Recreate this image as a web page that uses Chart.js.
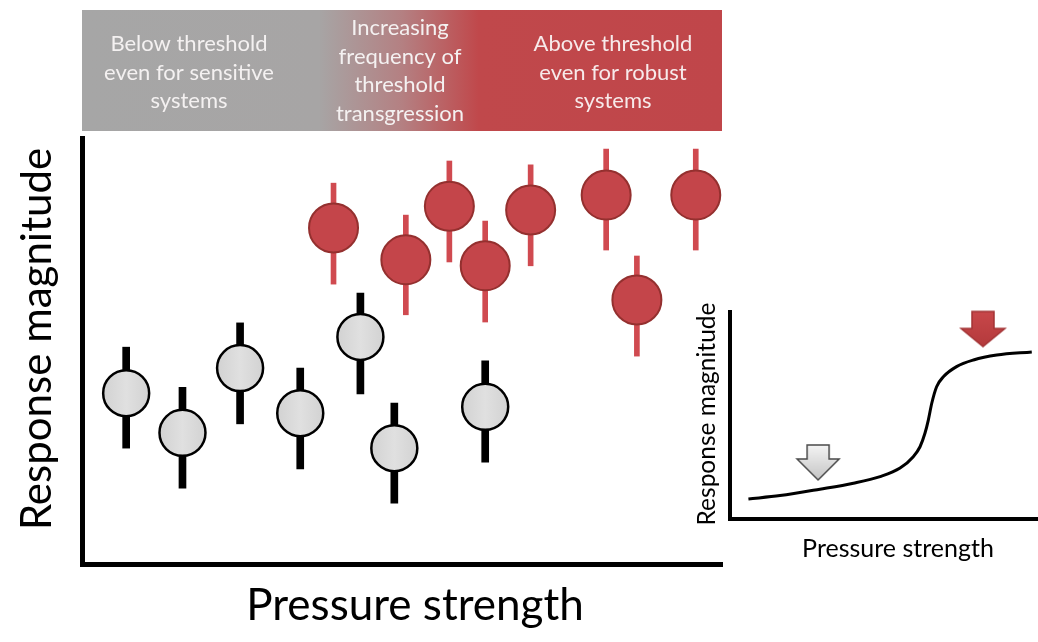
<!DOCTYPE html>
<html>
<head>
<meta charset="utf-8">
<script src="https://cdn.jsdelivr.net/npm/chart.js@4.4.1/dist/chart.umd.min.js"></script>
<style>
  html, body { margin: 0; padding: 0; background: #ffffff; }
  #wrap { position: relative; width: 1038px; height: 642px; }
  #wrap canvas { position: absolute; left: 0; top: 0; }
</style>
</head>
<body>
<div id="wrap">
  <canvas id="main" width="1038" height="642"></canvas>
  <canvas id="inset" width="1038" height="642"></canvas>
</div>
<script>
// Systems below the threshold (grey): pressure, mean response and response range
const greyPressure = [0.69, 1.57, 2.47, 3.41, 4.35, 4.88, 6.30];
const greyResponse = [4.01, 3.08, 4.60, 3.54, 5.33, 2.72, 3.69];
const greyLow      = [2.72, 1.78, 3.29, 2.23, 3.99, 1.43, 2.39];
const greyHigh     = [5.09, 4.15, 5.66, 4.60, 6.36, 3.78, 4.77];

// Systems above the threshold (red)
const redPressure = [3.93, 5.06, 5.74, 6.30, 7.01, 8.19, 8.67, 9.59];
const redResponse = [7.89, 7.14, 8.40, 7.00, 8.31, 8.66, 6.20, 8.66];
const redLow      = [6.57, 5.85, 7.09, 5.68, 7.00, 7.37, 4.88, 7.37];
const redHigh     = [8.94, 8.19, 9.46, 8.05, 9.37, 9.74, 7.23, 9.74];

// Zone labels along the top band
const zoneLabels = [
  ["Below threshold", "even for sensitive", "systems"],
  ["Increasing", "frequency of", "threshold", "transgression"],
  ["Above threshold", "even for robust", "systems"]
];

// Inset: response curve and the two zone arrows
const curvePressure = [0.60, 1.63, 2.93, 4.02, 4.89, 5.54, 5.97, 6.19, 6.35, 6.46, 6.57, 6.73, 6.95, 7.38, 7.93, 8.69, 9.83];
const curveResponse = [0.97, 1.13, 1.44, 1.73, 2.05, 2.46, 3.01, 3.49, 4.14, 4.78, 5.58, 6.39, 6.87, 7.36, 7.68, 7.92, 8.07];
const arrowPressure = [2.87, 8.24];
const arrowResponse = [2.73, 9.18];

const xTitle = "Pressure strength";
const yTitle = "Response magnitude";

const FONT = "Lato, 'Open Sans', sans-serif";

const bareAxis = (w) => ({
  type: 'linear', min: 0, max: 10, offset: false,
  ticks: { display: false },
  grid: { display: false, drawTicks: false },
  border: { display: true, width: w, color: '#000000' }
});

// top band with gradient from grey to red, plus zone labels
const bandPlugin = {
  id: 'zoneBand',
  beforeDraw(chart) {
    const ctx = chart.ctx;
    const x0 = chart.chartArea.left, x1 = chart.chartArea.right;
    const y0 = 10, y1 = 131;
    ctx.save();
    const g = ctx.createLinearGradient(x0, 0, x1, 0);
    g.addColorStop(0, '#a6a6a6');
    g.addColorStop(0.37, '#a7a5a5');
    g.addColorStop(0.5, '#b48082');
    g.addColorStop(0.62, '#c0484b');
    g.addColorStop(1, '#c0464a');
    ctx.fillStyle = g;
    ctx.fillRect(x0, y0, x1 - x0, y1 - y0);
    ctx.font = "22px " + FONT;
    ctx.textAlign = 'center';
    ctx.textBaseline = 'middle';
    const centers = [189, 400, 613];
    const firstLine = [44, 28, 44];
    zoneLabels.forEach((lines, i) => {
      ctx.fillStyle = i === 2 ? '#f7eaea' : '#f4f1f1';
      lines.forEach((t, j) => ctx.fillText(t, centers[i], firstLine[i] + j * 28.5));
    });
    ctx.restore();
  }
};

const mainTitles = {
  id: 'mainTitles',
  afterDraw(chart) {
    const ctx = chart.ctx;
    ctx.save();
    ctx.fillStyle = '#000000';
    ctx.textAlign = 'center';
    ctx.textBaseline = 'middle';
    ctx.font = "44px " + FONT;
    ctx.fillText(xTitle, 415, 606);
    ctx.font = "42px " + FONT;
    ctx.translate(37, 339);
    ctx.rotate(-Math.PI / 2);
    ctx.fillText(yTitle, 0, 0);
    ctx.restore();
  }
};

function greyFill(c) {
  const xs = c.chart.scales.x;
  if (c.type !== 'data' || !xs) return '#d8d8d8';
  const px = xs.getPixelForValue(c.raw.x);
  if (!isFinite(px)) return '#d8d8d8';
  const g = c.chart.ctx.createLinearGradient(px - 23, 0, px + 23, 0);
  g.addColorStop(0, '#d2d2d2');
  g.addColorStop(0.5, '#e0e0e0');
  g.addColorStop(1, '#d2d2d2');
  return g;
}

new Chart(document.getElementById('main'), {
  type: 'scatter',
  data: {
    datasets: [
      {
        type: 'scatter',
        data: redPressure.map((x, i) => ({ x, y: redResponse[i] })),
        pointRadius: 24.5, backgroundColor: '#c4454a', borderColor: '#94302f', borderWidth: 2,
        clip: false, order: 0
      },
      {
        type: 'scatter',
        data: greyPressure.map((x, i) => ({ x, y: greyResponse[i] })),
        pointRadius: 23, backgroundColor: greyFill, borderColor: '#000000', borderWidth: 2.5,
        clip: false, order: 1
      },
      {
        type: 'bar',
        data: redPressure.map((x, i) => ({ x, y: [redLow[i], redHigh[i]] })),
        backgroundColor: '#d04a50', borderWidth: 0, barThickness: 5, grouped: false,
        clip: false, order: 2
      },
      {
        type: 'bar',
        data: greyPressure.map((x, i) => ({ x, y: [greyLow[i], greyHigh[i]] })),
        backgroundColor: '#000000', borderWidth: 0, barThickness: 7, grouped: false,
        clip: false, order: 3
      }
    ]
  },
  options: {
    responsive: false, animation: false, events: [],
    layout: { autoPadding: false, padding: { left: 82, top: 138, right: 316, bottom: 78 } },
    plugins: { legend: { display: false }, tooltip: { enabled: false } },
    scales: { x: bareAxis(5), y: bareAxis(5) }
  },
  plugins: [bandPlugin, mainTitles]
});

// arrow glyphs for the inset
function makeArrow(w, h, shaftW, headH, fillTop, fillBottom, stroke) {
  const c = document.createElement('canvas');
  c.width = w + 4; c.height = h + 4;
  const ctx = c.getContext('2d');
  const ox = 2, oy = 2, cx = ox + w / 2;
  ctx.beginPath();
  ctx.moveTo(cx - shaftW / 2, oy);
  ctx.lineTo(cx + shaftW / 2, oy);
  ctx.lineTo(cx + shaftW / 2, oy + h - headH);
  ctx.lineTo(ox + w, oy + h - headH);
  ctx.lineTo(cx, oy + h);
  ctx.lineTo(ox, oy + h - headH);
  ctx.lineTo(cx - shaftW / 2, oy + h - headH);
  ctx.closePath();
  const g = ctx.createLinearGradient(0, oy, 0, oy + h);
  g.addColorStop(0, fillTop);
  g.addColorStop(1, fillBottom);
  ctx.fillStyle = g;
  ctx.fill();
  ctx.lineWidth = 1.5;
  ctx.strokeStyle = stroke;
  ctx.stroke();
  return c;
}
const arrowGlyphs = [
  makeArrow(42, 35, 22, 21, '#f4f4f4', '#c4c4c4', '#4a4a4a'),
  makeArrow(44, 35, 22, 18, '#c8474a', '#b43a3c', '#a33335')
];

const insetTitles = {
  id: 'insetTitles',
  afterDraw(chart) {
    const ctx = chart.ctx;
    ctx.save();
    ctx.fillStyle = '#000000';
    ctx.textAlign = 'center';
    ctx.textBaseline = 'middle';
    ctx.font = "25px " + FONT;
    ctx.fillText(xTitle, 898, 549);
    ctx.font = "24.5px " + FONT;
    ctx.translate(707, 414);
    ctx.rotate(-Math.PI / 2);
    ctx.fillText(yTitle, 0, 0);
    ctx.restore();
  }
};

new Chart(document.getElementById('inset'), {
  type: 'scatter',
  data: {
    datasets: [
      {
        type: 'scatter',
        data: arrowPressure.map((x, i) => ({ x, y: arrowResponse[i] })),
        pointStyle: (c) => arrowGlyphs[c.dataIndex] || 'circle',
        pointRadius: 20, clip: false, order: 0
      },
      {
        type: 'line',
        data: curvePressure.map((x, i) => ({ x, y: curveResponse[i] })),
        borderColor: '#000000', borderWidth: 3, pointRadius: 0, fill: false,
        cubicInterpolationMode: 'monotone', clip: false, order: 1
      }
    ]
  },
  options: {
    responsive: false, animation: false, events: [],
    layout: { autoPadding: false, padding: { left: 730, top: 312, right: 1, bottom: 123 } },
    plugins: { legend: { display: false }, tooltip: { enabled: false } },
    scales: { x: bareAxis(4), y: bareAxis(4) }
  },
  plugins: [insetTitles]
});
</script>
</body>
</html>
